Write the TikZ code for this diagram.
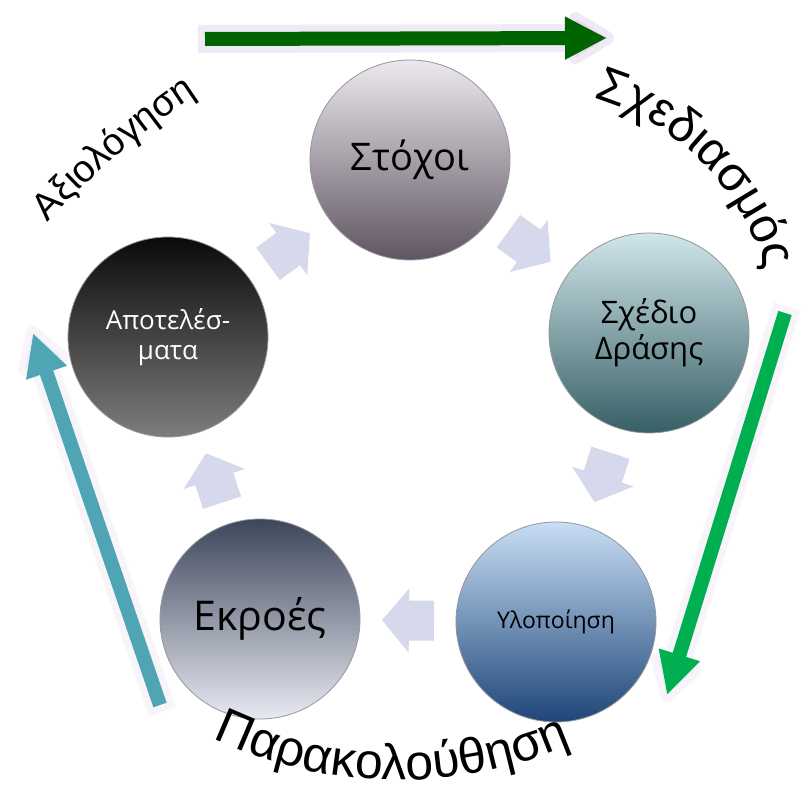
\documentclass[tikz,border=0pt]{standalone}
\usepackage{fontspec}
\setmainfont{Open Sans}
\newfontfamily\arcfont{Liberation Sans}
\usetikzlibrary{arrows.meta,calc,decorations.text}

\definecolor{stageline}{RGB}{150,150,155}
\definecolor{flowc}{RGB}{214,217,235}
\definecolor{glowc}{RGB}{205,188,222}
\definecolor{plangreen}{RGB}{0,100,0}
\definecolor{mongreen}{RGB}{0,176,80}
\definecolor{evalteal}{RGB}{80,165,180}

\newcommand\arcplan{\arcfont\fontsize{49}{49}\selectfont}
\newcommand\arcmon{\arcfont\fontsize{50}{50}\selectfont}
\newcommand\arceval{\arcfont\fontsize{38}{38}\selectfont}

\begin{document}
\begin{tikzpicture}[x=1pt,y=1pt,
  stage/.style={circle,draw=stageline,line width=0.8pt,minimum size=200pt,inner sep=0pt,align=center},
  flow/.style={line width=40pt,draw=flowc,-{Triangle[length=27pt,width=63pt]}},
  bigarrow/.style={line width=14pt,-{Triangle[length=42pt,width=40pt]}},
  glow/.style={line width=28pt,draw=glowc,opacity=.3,line join=round,
    -{Triangle[length=52pt,width=58pt,round]},shorten >=-7pt,shorten <=-7pt}]

  \fill[white] (0,0) rectangle (811,791);
  \useasboundingbox (0,0) rectangle (811,791);

  % outer cycle arrows
  \coordinate (planA) at (205,752);
  \coordinate (planB) at (607,753);
  \coordinate (monA) at (785,478);
  \coordinate (monB) at (667,96);
  \coordinate (evalA) at (160,86);
  \coordinate (evalB) at (33,458);

  \draw[glow] (planA) -- (planB);
  \draw[glow,opacity=.15] (monA) -- (monB);
  \draw[glow,opacity=.15] (evalA) -- (evalB);
  \draw[bigarrow,draw=plangreen,fill=plangreen] (planA) -- (planB);
  \draw[bigarrow,draw=mongreen,fill=mongreen] (monA) -- (monB);
  \draw[bigarrow,draw=evalteal,fill=evalteal] (evalA) -- (evalB);

  % stages
  \node[stage,top color={rgb,255:red,236;green,233;blue,238},middle color={rgb,255:red,196;green,188;blue,198},
    bottom color={rgb,255:red,95;green,85;blue,98},font=\fontsize{38}{44}\selectfont] (goals) at (410,631) {Στόχοι};
  \node[stage,top color={rgb,255:red,208;green,230;blue,234},middle color={rgb,255:red,140;green,180;blue,186},
    bottom color={rgb,255:red,55;green,95;blue,102},font=\fontsize{31}{36}\selectfont] (plan) at (649,458) {Σχέδιο\\Δράσης};
  \node[stage,top color={rgb,255:red,200;green,222;blue,245},middle color={rgb,255:red,110;green,160;blue,215},
    bottom color={rgb,255:red,30;green,70;blue,120},font=\fontsize{23}{28}\selectfont] (impl) at (556,169) {Υλοποίηση};
  \node[stage,top color={rgb,255:red,60;green,70;blue,90},middle color={rgb,255:red,155;green,162;blue,178},
    bottom color={rgb,255:red,232;green,234;blue,242},font=\fontsize{41}{48}\selectfont] (out) at (260,172) {Εκροές};
  \node[stage,top color={rgb,255:red,10;green,10;blue,10},middle color={rgb,255:red,45;green,45;blue,45},
    bottom color={rgb,255:red,125;green,125;blue,125},text=white,font=\fontsize{26}{30}\selectfont] (res) at (168,454) {Αποτελέσ-\\ματα};

  % inner flow arrows
  \foreach \a/\b in {goals/plan,plan/impl,impl/out,out/res,res/goals}
    \draw[flow] ($(\a)!.5!(\b)!-26pt!(\b)$) -- ($(\a)!.5!(\b)!26pt!(\b)$);

  % curved labels
  \coordinate (cPlan) at (521,449);
  \coordinate (cMon) at (399,443);
  \coordinate (cEval) at (641,23);

  \path[decorate,decoration={text along path,text align=center,text={|\arcplan|Σχεδιασμός}}]
    ($(cPlan)+(86:255)$) arc[start angle=86,end angle=4,radius=255];
  \path[decorate,decoration={text along path,text align=center,text={|\arcmon|Παρακολούθηση}}]
    ($(cMon)+(-136:432)$) arc[start angle=-136,end angle=-46,radius=432];
  \path[decorate,decoration={text along path,text align=center,text={|\arceval|Αξιολόγηση}}]
    ($(cEval)+(140.4:806)$) arc[start angle=140.4,end angle=120.4,radius=806];
\end{tikzpicture}
\end{document}
